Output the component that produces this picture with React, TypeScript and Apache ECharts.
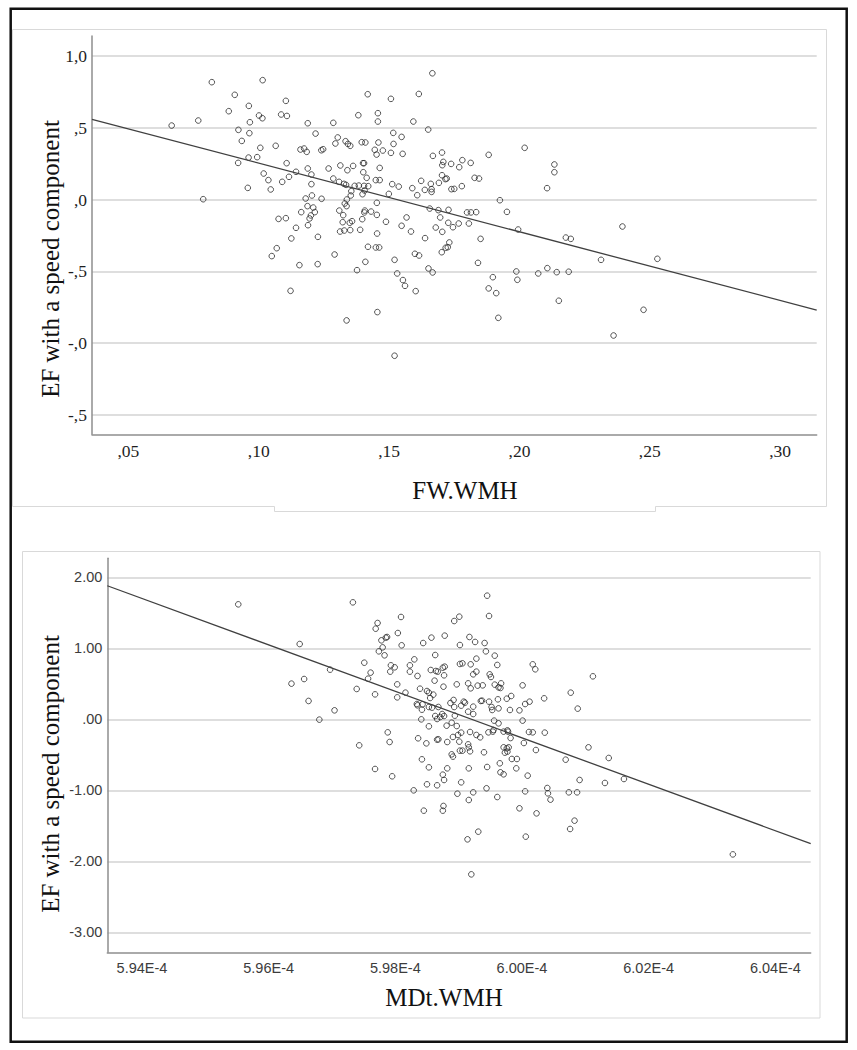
import { useEffect, useRef } from "react";
import * as echarts from "echarts";

// ---------- Top panel: FW.WMH vs EF with a speed component ----------
const fwWmh = [
  0.0820, 0.1015, 0.0908, 0.1418, 0.1507, 0.0962, 0.1104, 0.0885, 0.1001, 0.1014,
  0.1086, 0.1108, 0.1382, 0.1457, 0.1457, 0.0768, 0.0966, 0.1188, 0.1286, 0.0666,
  0.0922, 0.0964, 0.1218, 0.1516, 0.0935, 0.1303, 0.1333, 0.1342, 0.1351, 0.1395,
  0.1409, 0.1459, 0.1294, 0.1006, 0.1065, 0.1160, 0.1174, 0.1184, 0.1240, 0.1247,
  0.1445, 0.1476, 0.1507, 0.1517, 0.1452, 0.0961, 0.0994, 0.0921, 0.1107, 0.1188,
  0.1268, 0.1313, 0.1362, 0.1400, 0.1404, 0.1464, 0.1340, 0.1401, 0.1019, 0.1143,
  0.1202, 0.1116, 0.1090, 0.1037, 0.1046, 0.0958, 0.1286, 0.1308, 0.1327, 0.1335,
  0.1368, 0.1384, 0.1404, 0.1420, 0.1414, 0.1449, 0.1464, 0.1512, 0.1537, 0.1202,
  0.1406, 0.1355, 0.1398, 0.1499, 0.1204, 0.1180, 0.1241, 0.0787, 0.1338, 0.1330,
  0.1337, 0.1353, 0.1453, 0.1187, 0.1209, 0.1215, 0.1163, 0.1200, 0.1195, 0.1309,
  0.1324, 0.1407, 0.1405, 0.1431, 0.1453, 0.1397, 0.1358, 0.1349, 0.1322, 0.1488,
  0.1076, 0.1104, 0.1143, 0.1189, 0.1312, 0.1328, 0.1351, 0.1389, 0.1125, 0.1227,
  0.1454, 0.1069, 0.1050, 0.1291, 0.1419, 0.1449, 0.1462, 0.1521, 0.1409, 0.1156,
  0.1226, 0.1377, 0.1531, 0.1122, 0.1337, 0.1455, 0.1521,
  0.1666, 0.1614, 0.1593, 0.1650, 0.1548, 0.2020, 0.1882, 0.1552, 0.1668, 0.1703,
  0.1708, 0.1704, 0.1738, 0.1781, 0.1769, 0.1813, 0.2134, 0.2134, 0.1703, 0.1716,
  0.1721, 0.1691, 0.1660, 0.1623, 0.1589, 0.1637, 0.1663, 0.1663, 0.1608, 0.1739,
  0.1750, 0.1779, 0.1828, 0.1845, 0.2106, 0.1925, 0.1656, 0.1689, 0.1728, 0.1799,
  0.1814, 0.1834, 0.1952, 0.1567, 0.1696, 0.1727, 0.1767, 0.1806, 0.1548, 0.1679,
  0.1704, 0.1745, 0.1584, 0.1995, 0.2395, 0.2178, 0.2197, 0.1638, 0.1851, 0.1731,
  0.1725, 0.1717, 0.1702, 0.1599, 0.1615, 0.2313, 0.2529, 0.1841, 0.1651, 0.1667,
  0.1988, 0.2107, 0.2143, 0.2189, 0.2072, 0.1553, 0.1561, 0.1898, 0.1992, 0.1602,
  0.1882, 0.1911, 0.2151, 0.2476, 0.1919, 0.2361,
];
const efTop = [
  0.817, 0.831, 0.729, 0.733, 0.701, 0.652, 0.687, 0.615, 0.585, 0.566,
  0.592, 0.582, 0.587, 0.601, 0.543, 0.550, 0.538, 0.531, 0.534, 0.515,
  0.485, 0.462, 0.459, 0.464, 0.408, 0.432, 0.406, 0.387, 0.374, 0.399,
  0.397, 0.397, 0.390, 0.360, 0.374, 0.348, 0.355, 0.332, 0.343, 0.350,
  0.346, 0.341, 0.325, 0.387, 0.313, 0.292, 0.295, 0.255, 0.253, 0.216,
  0.216, 0.237, 0.234, 0.253, 0.253, 0.220, 0.204, 0.190, 0.181, 0.193,
  0.174, 0.158, 0.123, 0.135, 0.070, 0.081, 0.146, 0.123, 0.109, 0.102,
  0.095, 0.097, 0.095, 0.093, 0.151, 0.135, 0.135, 0.107, 0.090, 0.107,
  0.063, 0.058, 0.037, 0.039, 0.028, 0.007, 0.005, 0.002, 0.000, -0.028,
  -0.046, 0.028, -0.023, -0.046, -0.056, -0.088, -0.088, -0.111, -0.132, -0.077,
  -0.109, -0.077, -0.090, -0.084, -0.107, -0.137, -0.151, -0.162, -0.158, -0.155,
  -0.135, -0.130, -0.197, -0.179, -0.223, -0.216, -0.213, -0.211, -0.271, -0.260,
  -0.237, -0.339, -0.394, -0.383, -0.329, -0.334, -0.334, -0.420, -0.434, -0.457,
  -0.450, -0.492, -0.515, -0.636, -0.842, -0.784, -1.088,
  0.879, 0.735, 0.543, 0.487, 0.436, 0.360, 0.311, 0.318, 0.304, 0.327,
  0.262, 0.239, 0.248, 0.274, 0.225, 0.255, 0.244, 0.190, 0.169, 0.142,
  0.146, 0.116, 0.109, 0.130, 0.079, 0.067, 0.072, 0.053, 0.030, 0.072,
  0.074, 0.093, 0.151, 0.146, 0.079, -0.005, -0.063, -0.074, -0.072, -0.090,
  -0.090, -0.088, -0.086, -0.125, -0.125, -0.162, -0.167, -0.167, -0.183, -0.195,
  -0.225, -0.193, -0.223, -0.209, -0.188, -0.265, -0.274, -0.269, -0.274, -0.299,
  -0.332, -0.336, -0.367, -0.378, -0.390, -0.420, -0.413, -0.441, -0.480, -0.508,
  -0.501, -0.478, -0.506, -0.503, -0.515, -0.561, -0.601, -0.541, -0.559, -0.638,
  -0.619, -0.652, -0.705, -0.768, -0.824, -0.947,
];

// ---------- Bottom panel: MDt.WMH vs EF with a speed component ----------
const mdtWmh = [
  5.9552e-4, 5.9733e-4, 5.9809e-4, 5.9772e-4, 5.9769e-4, 5.9804e-4, 5.9787e-4, 5.9785e-4, 5.9778e-4, 5.9780e-4,
  5.9774e-4, 5.9783e-4, 5.9810e-4, 5.9844e-4, 5.9857e-4, 5.9878e-4, 5.9893e-4, 5.9901e-4, 5.9902e-4, 5.9649e-4,
  5.9751e-4, 5.9761e-4, 5.9757e-4, 5.9793e-4, 5.9799e-4, 5.9792e-4, 5.9823e-4, 5.9823e-4, 5.9830e-4, 5.9835e-4,
  5.9863e-4, 5.9856e-4, 5.9864e-4, 5.9867e-4, 5.9875e-4, 5.9878e-4, 5.9877e-4, 5.9902e-4, 5.9906e-4, 5.9697e-4,
  5.9636e-4, 5.9656e-4, 5.9739e-4, 5.9768e-4, 5.9803e-4, 5.9803e-4, 5.9816e-4, 5.9839e-4, 5.9850e-4, 5.9853e-4,
  5.9860e-4, 5.9855e-4, 5.9862e-4, 5.9876e-4, 5.9897e-4, 5.9663e-4, 5.9704e-4, 5.9680e-4, 5.9834e-4, 5.9835e-4,
  5.9842e-4, 5.9843e-4, 5.9853e-4, 5.9858e-4, 5.9868e-4, 5.9887e-4, 5.9892e-4, 5.9893e-4, 5.9904e-4, 5.9908e-4,
  5.9841e-4, 5.9853e-4, 5.9863e-4, 5.9866e-4, 5.9871e-4, 5.9874e-4, 5.9877e-4, 5.9881e-4, 5.9889e-4, 5.9897e-4,
  5.9894e-4, 5.9904e-4, 5.9899e-4, 5.9891e-4, 5.9788e-4, 5.9791e-4, 5.9836e-4, 5.9849e-4, 5.9866e-4, 5.9868e-4,
  5.9882e-4, 5.9901e-4, 5.9906e-4, 5.9902e-4, 5.9889e-4, 5.9891e-4, 5.9743e-4, 5.9842e-4, 5.9853e-4, 5.9882e-4,
  5.9875e-4, 5.9877e-4, 5.9768e-4, 5.9795e-4, 5.9850e-4, 5.9866e-4, 5.9904e-4, 5.9829e-4, 5.9898e-4, 5.9845e-4,
  5.9876e-4, 5.9875e-4,
  5.9945e-4, 5.9948e-4, 5.9917e-4, 5.9926e-4, 5.9941e-4, 5.9943e-4, 5.9957e-4, 5.9961e-4, 5.9928e-4, 5.9919e-4,
  5.9923e-4, 5.9928e-4, 5.9949e-4, 5.9951e-4, 5.9915e-4, 5.9919e-4, 5.9930e-4, 5.9938e-4, 5.9957e-4, 5.9963e-4,
  5.9967e-4, 5.9966e-4, 6.0017e-4, 6.0021e-4, 6.0112e-4, 6.0001e-4, 6.0035e-4, 6.0077e-4, 6.0088e-4, 5.9910e-4,
  5.9923e-4, 5.9915e-4, 5.9923e-4, 5.9935e-4, 5.9937e-4, 5.9948e-4, 5.9952e-4, 5.9953e-4, 5.9963e-4, 5.9962e-4,
  5.9976e-4, 5.9983e-4, 5.9981e-4, 5.9996e-4, 6.0005e-4, 6.0012e-4, 5.9956e-4, 5.9963e-4, 6.0001e-4, 5.9918e-4,
  5.9928e-4, 5.9934e-4, 5.9947e-4, 5.9955e-4, 5.9954e-4, 5.9971e-4, 5.9977e-4, 5.9978e-4, 6.0011e-4, 6.0017e-4,
  6.0036e-4, 5.9982e-4, 5.9915e-4, 5.9918e-4, 5.9916e-4, 5.9940e-4, 5.9971e-4, 5.9976e-4, 5.9973e-4, 5.9979e-4,
  5.9977e-4, 6.0003e-4, 6.0022e-4, 6.0105e-4, 6.0069e-4, 6.0137e-4, 5.9984e-4, 5.9992e-4, 5.9965e-4, 5.9945e-4,
  5.9916e-4, 5.9991e-4, 5.9966e-4, 5.9971e-4, 6.0009e-4, 6.0091e-4, 6.0131e-4, 6.0161e-4, 5.9944e-4, 6.0005e-4,
  6.0040e-4, 6.0041e-4, 6.0045e-4, 6.0074e-4, 6.0087e-4, 5.9923e-4, 5.9916e-4, 5.9961e-4, 5.9996e-4, 6.0023e-4,
  6.0083e-4, 6.0076e-4, 5.9931e-4, 5.9914e-4, 6.0006e-4, 5.9920e-4, 6.0333e-4,
];
const efBottom = [
  1.622, 1.650, 1.444, 1.359, 1.279, 1.218, 1.162, 1.153, 1.115, 1.016,
  0.960, 0.904, 1.045, 1.077, 1.153, 1.181, 1.387, 1.448, 1.049, 1.063,
  0.800, 0.660, 0.575, 0.763, 0.735, 0.674, 0.763, 0.674, 0.847, 0.613,
  0.908, 0.697, 0.683, 0.674, 0.730, 0.744, 0.622, 0.782, 0.791, 0.702,
  0.505, 0.570, 0.430, 0.354, 0.495, 0.312, 0.378, 0.434, 0.401, 0.378,
  0.350, 0.303, 0.547, 0.462, 0.495, 0.261, 0.129, -0.002, 0.218, 0.200,
  0.138, 0.214, 0.176, 0.167, 0.176, 0.232, 0.275, 0.176, 0.195, 0.251,
  0.002, -0.096, 0.049, 0.007, 0.035, 0.077, 0.049, -0.087, -0.045, -0.092,
  0.054, -0.185, -0.218, -0.246, -0.181, -0.317, -0.265, -0.336, -0.284, -0.279,
  -0.317, -0.312, -0.439, -0.439, -0.491, -0.523, -0.364, -0.561, -0.674, -0.688,
  -0.777, -0.852, -0.697, -0.800, -0.913, -0.927, -0.885, -0.998, -1.045, -1.284,
  -1.218, -1.284,
  1.744, 1.458, 1.162, 1.092, 1.077, 0.960, 0.899, 0.768, 0.857, 0.777,
  0.636, 0.674, 0.636, 0.599, 0.509, 0.439, 0.477, 0.481, 0.491, 0.453,
  0.509, 0.444, 0.777, 0.707, 0.608, 0.481, 0.298, 0.378, 0.153, 0.237,
  0.181, 0.110, 0.077, 0.261, 0.265, 0.251, 0.176, 0.134, 0.157, 0.284,
  0.293, 0.331, 0.134, 0.129, 0.218, 0.251, -0.016, -0.054, -0.016, -0.176,
  -0.218, -0.251, -0.181, -0.148, -0.171, -0.171, -0.153, -0.171, -0.176, -0.181,
  -0.185, -0.261, -0.350, -0.448, -0.392, -0.462, -0.392, -0.406, -0.467, -0.392,
  -0.453, -0.331, -0.430, -0.392, -0.566, -0.542, -0.556, -0.556, -0.617, -0.669,
  -0.688, -0.688, -0.744, -0.772, -0.791, -0.852, -0.894, -0.838, -0.969, -1.012,
  -0.965, -1.040, -1.129, -1.026, -1.026, -1.026, -1.134, -1.092, -1.251, -1.322,
  -1.425, -1.542, -1.580, -1.688, -1.650, -2.181, -1.900,
];

// ---------- Axis ticks / labels ----------
const FW_X_TICKS = [0.05, 0.1, 0.15, 0.2, 0.25, 0.3];
const FW_X_LABELS = [",05", ",10", ",15", ",20", ",25", ",30"];
const FW_Y_TICKS = [1.0, 0.5, 0, -0.5, -1.0, -1.5];
const FW_Y_LABELS = ["1,0", ",5", ",0", "-,5", "-,0", "-,5"];
const MD_X_TICKS = [5.94e-4, 5.96e-4, 5.98e-4, 6.0e-4, 6.02e-4, 6.04e-4];
const MD_X_LABELS = ["5.94E-4", "5.96E-4", "5.98E-4", "6.00E-4", "6.02E-4", "6.04E-4"];
const MD_Y_TICKS = [2, 1, 0, -1, -2, -3];
const MD_Y_LABELS = ["2.00", "1.00", ".00", "-1.00", "-2.00", "-3.00"];

const FW_RANGE = { xMin: 0.03604, xMax: 0.31402, yMin: -1.635, yMax: 1.1386 };
const MD_RANGE = { xMin: 5.93452e-4, xMax: 6.04559e-4, yMin: -3.279, yMax: 2.2704 };

// Fit lines (linear regression lines)
const FW_FIT = { intercept: 0.731, slope: -4.779 };
const MD_FIT = { intercept: 196.002, slope: -327100 };

const SERIF = "'Liberation Serif', 'Times New Roman', serif";
const SANS = "'Liberation Sans', Arial, sans-serif";

function labelFor(ticks: number[], labels: string[]) {
  return (v: number) => {
    const i = ticks.findIndex((t) => Math.abs(t - v) <= Math.abs(t) * 1e-6 + 1e-12);
    return i >= 0 ? labels[i] : "";
  };
}

function zip(xs: number[], ys: number[]) {
  return xs.map((x, i) => [x, ys[i]]);
}

export default function App() {
  const ref = useRef<HTMLDivElement>(null);

  useEffect(() => {
    if (!ref.current) return;
    const chart = echarts.init(ref.current, undefined, { renderer: "svg" });

    const gridLine = { show: true, lineStyle: { color: "#d3d3d3", width: 1.5 } };
    const axisLine = { show: true, onZero: false, lineStyle: { color: "#8e8e8e", width: 1.5 } };
    const scatterStyle = {
      type: "scatter",
      symbol: "circle",
      symbolSize: 5.6,
      itemStyle: { color: "rgba(255,255,255,0)", borderColor: "#2b2b2b", borderWidth: 1 },
      silent: true,
      z: 3,
    };
    const fitStyle = {
      type: "line",
      showSymbol: false,
      symbol: "none",
      silent: true,
      lineStyle: { color: "#404040", width: 1.3 },
      z: 4,
    };

    const option: any = {
      animation: false,
      backgroundColor: "#ffffff",
      grid: [
        { left: 92, top: 36, width: 724.7, height: 398.3, outerBoundsMode: "none", containLabel: false },
        { left: 107.3, top: 558.3, width: 703.4, height: 394, outerBoundsMode: "none", containLabel: false },
      ],
      xAxis: [
        {
          type: "value",
          gridIndex: 0,
          min: FW_RANGE.xMin,
          max: FW_RANGE.xMax,
          axisLine,
          axisTick: { show: false, customValues: FW_X_TICKS },
          splitLine: { show: false },
          axisLabel: {
            customValues: FW_X_TICKS,
            formatter: labelFor(FW_X_TICKS, FW_X_LABELS),
            margin: 8,
            fontFamily: SERIF,
            fontSize: 17.5,
            color: "#1e1e1e",
          },
        },
        {
          type: "value",
          gridIndex: 1,
          min: MD_RANGE.xMin,
          max: MD_RANGE.xMax,
          axisLine,
          axisTick: { show: false, customValues: MD_X_TICKS },
          splitLine: { show: false },
          axisLabel: {
            customValues: MD_X_TICKS,
            formatter: labelFor(MD_X_TICKS, MD_X_LABELS),
            margin: 8,
            fontFamily: SANS,
            fontSize: 14.5,
            color: "#3c3c3c",
          },
        },
      ],
      yAxis: [
        {
          type: "value",
          gridIndex: 0,
          min: FW_RANGE.yMin,
          max: FW_RANGE.yMax,
          axisLine,
          axisTick: { show: false, customValues: FW_Y_TICKS },
          splitLine: gridLine,
          axisLabel: {
            customValues: FW_Y_TICKS,
            formatter: labelFor(FW_Y_TICKS, FW_Y_LABELS),
            margin: 5,
            fontFamily: SERIF,
            fontSize: 17.5,
            color: "#1e1e1e",
          },
        },
        {
          type: "value",
          gridIndex: 1,
          min: MD_RANGE.yMin,
          max: MD_RANGE.yMax,
          axisLine,
          axisTick: { show: false, customValues: MD_Y_TICKS },
          splitLine: gridLine,
          axisLabel: {
            customValues: MD_Y_TICKS,
            formatter: labelFor(MD_Y_TICKS, MD_Y_LABELS),
            margin: 5,
            fontFamily: SANS,
            fontSize: 14.5,
            color: "#3c3c3c",
          },
        },
      ],
      series: [
        { ...scatterStyle, xAxisIndex: 0, yAxisIndex: 0, data: zip(fwWmh, efTop) },
        {
          ...fitStyle,
          xAxisIndex: 0,
          yAxisIndex: 0,
          data: [FW_RANGE.xMin, FW_RANGE.xMax].map((x) => [x, FW_FIT.intercept + FW_FIT.slope * x]),
        },
        { ...scatterStyle, xAxisIndex: 1, yAxisIndex: 1, data: zip(mdtWmh, efBottom) },
        {
          ...fitStyle,
          xAxisIndex: 1,
          yAxisIndex: 1,
          data: [MD_RANGE.xMin, MD_RANGE.xMax].map((x) => [x, MD_FIT.intercept + MD_FIT.slope * x]),
        },
      ],
      graphic: [
        {
          type: "rect",
          shape: { x: 10.7, y: 8.7, width: 836, height: 1033 },
          style: { fill: "none", stroke: "#111111", lineWidth: 2.5 },
          silent: true,
        },
        {
          type: "polyline",
          shape: {
            points: [
              [12.5, 29.5], [826.5, 29.5], [826.5, 506.5], [655.5, 506.5], [655.5, 511.5],
              [274.5, 511.5], [274.5, 506.5], [12.5, 506.5], [12.5, 29.5],
            ],
          },
          style: { fill: "none", stroke: "#d9d9d9", lineWidth: 1 },
          silent: true,
        },
        {
          type: "rect",
          shape: { x: 22.5, y: 551.5, width: 797.5, height: 466.5 },
          style: { fill: "none", stroke: "#d9d9d9", lineWidth: 1 },
          silent: true,
        },
        {
          type: "text",
          x: 50,
          y: 259,
          rotation: Math.PI / 2,
          style: {
            text: "EF with a speed component",
            fontFamily: SERIF,
            fontSize: 25,
            fill: "#111111",
            textAlign: "center",
            textVerticalAlign: "middle",
          },
          silent: true,
        },
        {
          type: "text",
          x: 465,
          y: 490,
          style: {
            text: "FW.WMH",
            fontFamily: SERIF,
            fontSize: 25,
            fill: "#111111",
            textAlign: "center",
            textVerticalAlign: "middle",
          },
          silent: true,
        },
        {
          type: "text",
          x: 50,
          y: 774,
          rotation: Math.PI / 2,
          style: {
            text: "EF with a speed component",
            fontFamily: SERIF,
            fontSize: 25,
            fill: "#111111",
            textAlign: "center",
            textVerticalAlign: "middle",
          },
          silent: true,
        },
        {
          type: "text",
          x: 444,
          y: 997,
          style: {
            text: "MDt.WMH",
            fontFamily: SERIF,
            fontSize: 25,
            fill: "#111111",
            textAlign: "center",
            textVerticalAlign: "middle",
          },
          silent: true,
        },
      ],
    };

    chart.setOption(option);
    return () => chart.dispose();
  }, []);

  return (
    <div
      ref={ref}
      style={{ position: "absolute", left: 0, top: 0, width: 857, height: 1050, background: "#ffffff" }}
    />
  );
}
